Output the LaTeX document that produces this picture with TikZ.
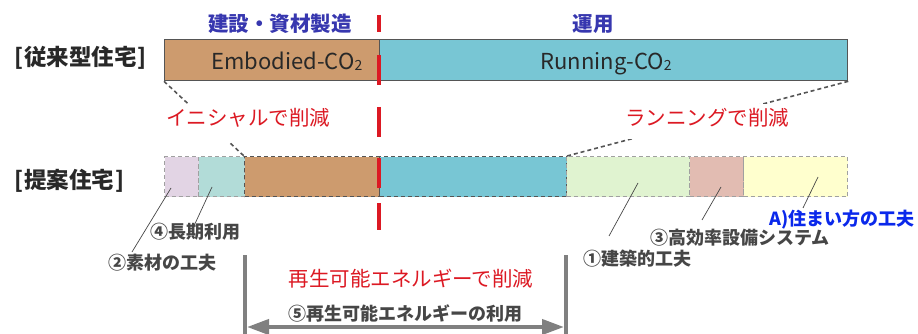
\documentclass[tikz,border=0pt]{standalone}
\usepackage{fontspec}
\newfontfamily\jp{Noto Sans CJK JP}
\usetikzlibrary{arrows.meta}
\definecolor{brownc}{RGB}{205,155,110}
\definecolor{bluec}{RGB}{120,198,212}
\definecolor{purplec}{RGB}{226,212,228}
\definecolor{tealc}{RGB}{178,220,216}
\definecolor{greenc}{RGB}{224,243,208}
\definecolor{pinkc}{RGB}{226,188,178}
\definecolor{yellowc}{RGB}{255,255,206}
\definecolor{bordk}{RGB}{85,85,85}
\definecolor{bordl}{RGB}{160,160,160}
\definecolor{redc}{RGB}{220,25,35}
\definecolor{bluet}{RGB}{55,55,175}
\definecolor{blueA}{RGB}{10,40,235}
\definecolor{grayt}{RGB}{70,70,70}
\definecolor{arrowg}{RGB}{128,128,128}
\definecolor{darkt}{RGB}{40,40,40}
\begin{document}
\begin{tikzpicture}[x=1pt,y=-1pt,
  every node/.style={font=\jp, inner sep=0pt},
  topseg/.style={draw=bordk, line width=1.3pt, minimum height=41pt, anchor=north west},
  botseg/.style={dashed, dash pattern=on 4pt off 3pt, line width=1pt, minimum height=40pt, anchor=north west},
  bartext/.style={font=\jp\fontsize{22pt}{22pt}\selectfont, text=darkt, anchor=base},
  headtext/.style={font=\jp\bfseries\fontsize{20.5pt}{22pt}\selectfont, text=bluet},
  housetext/.style={font=\jp\bfseries\fontsize{22.5pt}{24pt}\selectfont, text=darkt, anchor=west},
  redtext/.style={font=\jp\fontsize{20.5pt}{22pt}\selectfont, text=redc, fill=white, anchor=base},
  graytext/.style={font=\jp\bfseries\fontsize{18pt}{20pt}\selectfont, text=grayt},
  leader/.style={draw=grayt, line width=0.7pt},
  ddash/.style={draw=bordk, line width=1.6pt, dash pattern=on 4pt off 3pt},
  vbar/.style={draw=arrowg, line width=4pt},
]
\useasboundingbox (0,0) rectangle (918,334);

% headings
\node[headtext] (h1) at (280,24) {建設・資材製造};
\node[headtext] (h2) at (593,24) {運用};

% house labels
\node[housetext] (hc) at (14,58) {[\kern1pt 従来型住宅\kern1pt]};
\node[housetext] (hp) at (14,181) {[\kern1pt 提案住宅\kern1pt]};

% top bar
\node[topseg, fill=brownc, minimum width=215pt] (emb) at (164,39) {};
\node[topseg, fill=bluec, minimum width=468pt] (run) at (379,39) {};
\node[bartext] (embt) at (287,70) {Embodied-CO\raisebox{-1pt}{\fontsize{14pt}{14pt}\selectfont 2}};
\node[bartext] (runt) at (606,70) {Running-CO\raisebox{-1pt}{\fontsize{14pt}{14pt}\selectfont 2}};

% bottom bar
\node[botseg, draw=bordl, fill=purplec, minimum width=34pt] (s2) at (164,156) {};
\node[botseg, draw=bordl, fill=tealc, minimum width=46pt] (s4) at (198,156) {};
\node[botseg, draw=bordk, fill=brownc, minimum width=135pt] (sb) at (244,156) {};
\node[botseg, draw=bordk, fill=bluec, minimum width=187pt] (sr) at (379,156) {};
\node[botseg, draw=bordl, fill=greenc, minimum width=123pt] (s1) at (566,156) {};
\node[botseg, draw=bordl, fill=pinkc, minimum width=54pt] (s3) at (689,156) {};
\node[botseg, draw=bordl, fill=yellowc, minimum width=104pt] (sA) at (743,156) {};

% dashed projection lines
\draw[ddash] (emb.south west) -- (sb.north west);
\draw[ddash] (run.south east) -- (sr.north east);

% reduction labels
\node[redtext, text height=21pt, text depth=17pt, inner xsep=2pt] (ini) at (248,125) {イニシャルで削減};
\node[redtext, text height=21pt, text depth=14pt, inner xsep=2pt] (rnl) at (707,125) {ランニングで削減};

% red dashed divider
\coordinate (rtop) at (379,15);
\coordinate (rbot) at (379,230);
\draw[draw=redc, line width=3.3pt, dash pattern=on 17pt off 23pt on 30pt off 22pt on 30pt off 21pt on 30pt off 15pt on 27pt] (rtop) -- (rbot);

% item labels
\node[graytext] (t4) at (195,232) {④長期利用};
\node[graytext] (t2) at (162,263) {②素材の工夫};
\node[graytext] (t1) at (637,259) {①建築的工夫};
\node[graytext] (t3) at (740,238) {③高効率設備システム};
\node[graytext, text=blueA] (tA) at (842,220) {A)住まい方の工夫};

% leader lines
\coordinate (l2a) at (171,188); \coordinate (l2b) at (132,252);
\coordinate (l4a) at (212,187); \coordinate (l4b) at (193,228);
\coordinate (l1a) at (638,183); \coordinate (l1b) at (609,236);
\coordinate (l3a) at (721,187); \coordinate (l3b) at (702,220);
\coordinate (lAa) at (818,177); \coordinate (lAb) at (803,208);
\draw[leader] (l2a) -- (l2b);
\draw[leader] (l4a) -- (l4b);
\draw[leader] (l1a) -- (l1b);
\draw[leader] (l3a) -- (l3b);
\draw[leader] (lAa) -- (lAb);

% renewable energy span
\coordinate (va) at (245,255); \coordinate (vb) at (245,334);
\coordinate (vc) at (566,255); \coordinate (vd) at (566,334);
\draw[vbar] (va) -- (vb);
\draw[vbar] (vc) -- (vd);
\node[font=\jp\fontsize{20.5pt}{22pt}\selectfont, text=redc] (ren) at (411,279) {再生可能エネルギーで削減};
\node[graytext] (renu) at (405,314) {⑤再生可能エネルギーの利用};
\coordinate (aL) at (247,327); \coordinate (aR) at (564,327);
\draw[draw=arrowg, line width=4pt, {Triangle[length=22pt,width=15pt]}-{Triangle[length=22pt,width=15pt]}] (aL) -- (aR);
\end{tikzpicture}
\end{document}
